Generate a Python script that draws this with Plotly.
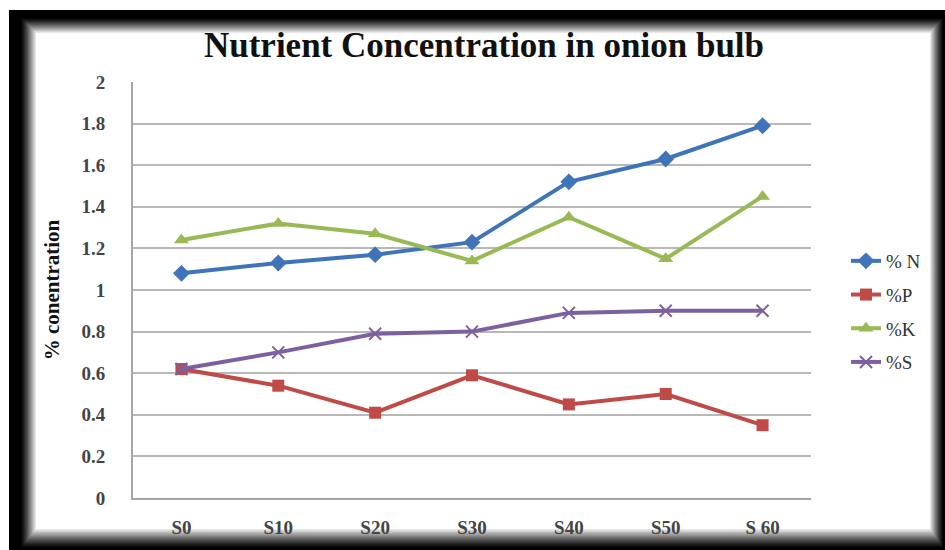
import plotly.graph_objects as go

# Treatments and nutrient concentrations (%) in onion bulb
treatments = ["S0", "S10", "S20", "S30", "S40", "S50", "S 60"]
n_pct = [1.08, 1.13, 1.17, 1.23, 1.52, 1.63, 1.79]
p_pct = [0.62, 0.54, 0.41, 0.59, 0.45, 0.50, 0.35]
k_pct = [1.24, 1.32, 1.27, 1.14, 1.35, 1.15, 1.45]
s_pct = [0.62, 0.70, 0.79, 0.80, 0.89, 0.90, 0.90]

W, H = 945, 550
PL, PR, PT, PB = 133, 811, 82, 498  # plot area in pixels

def px_x(x):
    return (x - PL) / (PR - PL)

def px_y(y):
    return (PB - y) / (PB - PT)

SERIF = "Liberation Serif, Times New Roman, DejaVu Serif, serif"

series = [
    ("% N", n_pct, "#3F74B8", dict(symbol="diamond", size=13)),
    ("%P", p_pct, "#BE4B48", dict(symbol="square", size=12)),
    ("%K", k_pct, "#98B954", dict(symbol="triangle-up", size=13)),
    ("%S", s_pct, "#7D60A0", dict(symbol="x-thin-open", size=12)),
]

fig = go.Figure()
for i, (name, vals, color, marker) in enumerate(series):
    m = dict(color=color, **marker)
    if marker["symbol"] == "x-thin-open":
        m["line"] = dict(color=color, width=2)
    fig.add_trace(go.Scatter(
        x=treatments, y=vals, name=name, mode="lines+markers",
        line=dict(color=color, width=4), marker=m,
        legendgroup=f"g{i}",
    ))

# dark shaded frame around the chart
shapes = []
steps = 14
shapes.append(dict(type="rect", xref="paper", yref="paper", layer="below",
                   x0=px_x(9), x1=px_x(945), y0=px_y(550), y1=px_y(10),
                   fillcolor="#000000", line=dict(width=0)))
for i in range(steps):
    t = (i + 1) / steps
    g = int(round(255 * t ** 1.3))
    shapes.append(dict(type="rect", xref="paper", yref="paper", layer="below",
                       x0=px_x(20 + 16 * t), x1=px_x(944 - 14 * t),
                       y0=px_y(549 - 20 * t), y1=px_y(17 + 16 * t),
                       fillcolor=f"rgb({g},{g},{g})", line=dict(width=0)))

fig.update_layout(
    width=W, height=H,
    margin=dict(l=PL, r=W - PR, t=PT, b=H - PB, pad=0),
    paper_bgcolor="white",
    plot_bgcolor="rgba(0,0,0,0)",
    font=dict(family=SERIF),
    shapes=shapes,
    title=dict(text="<b>Nutrient Concentration in onion bulb</b>",
               x=px_x(484), xref="paper", xanchor="center",
               y=1 - 45 / H, yanchor="middle",
               font=dict(family=SERIF, size=35, color="#111111")),
    showlegend=True,
    legend=dict(x=px_x(846), xanchor="left", y=px_y(242), yanchor="top",
                font=dict(family=SERIF, size=19, color="#333333"),
                tracegroupgap=6, bgcolor="rgba(0,0,0,0)"),
    xaxis=dict(range=[-0.5, 6.5], showgrid=False, showline=True,
               linecolor="#a6a6a6", linewidth=2, ticks="", zeroline=False,
               automargin=False,
               tickfont=dict(family=SERIF, size=19, color="#444444", weight="bold"),
               ticklabelstandoff=11),
    yaxis=dict(range=[0, 2], dtick=0.2, showgrid=True, gridcolor="#b8b8b8",
               gridwidth=1.5, showline=True, linecolor="#a6a6a6", linewidth=2,
               zeroline=False, ticks="", automargin=False,
               tickfont=dict(family=SERIF, size=19, color="#444444", weight="bold"),
               ticklabelstandoff=22,
               title=dict(text="<b>% conentration</b>", standoff=16,
                          font=dict(family=SERIF, size=21, color="#111111"))),
)

fig.write_html("out.html")
